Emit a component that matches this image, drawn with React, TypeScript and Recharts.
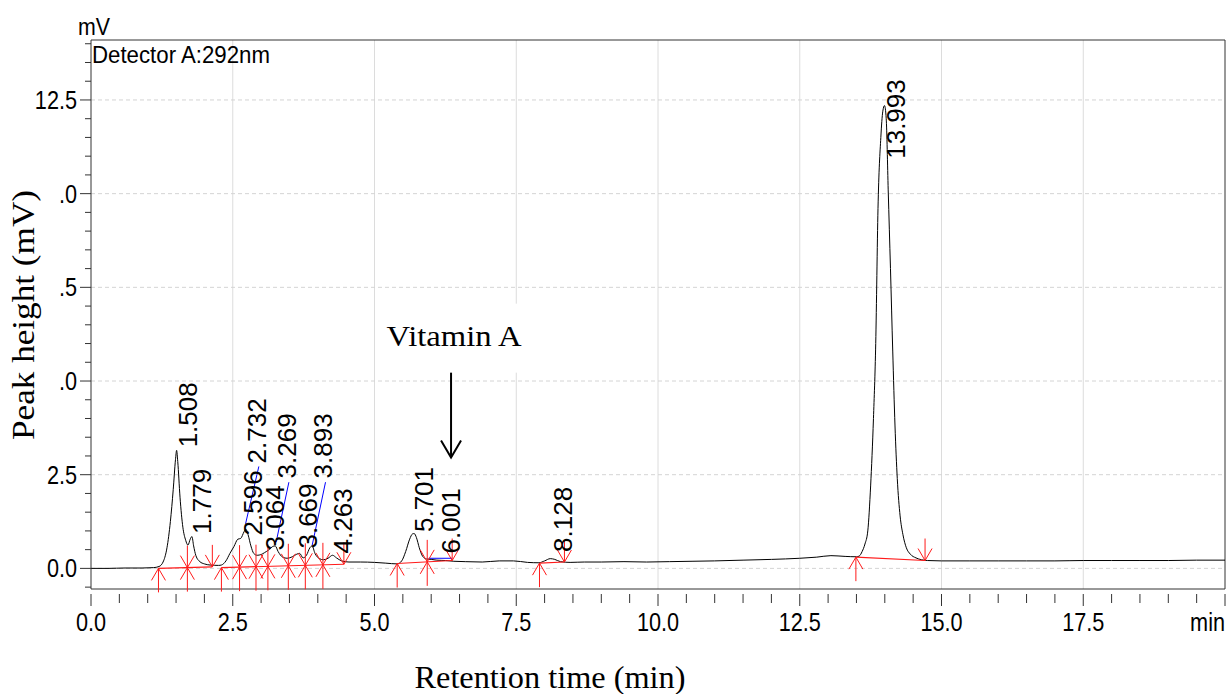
import React from 'react'
import { LineChart, Line, XAxis, YAxis, ReferenceLine, ReferenceDot } from 'recharts'

// detector trace, retention time (min) / signal (mV)
const times = [
  0, 0.3, 0.6, 0.9, 1.1, 1.2, 1.28, 1.34, 1.4, 1.45, 1.49, 1.51, 1.53, 1.57, 1.62, 1.67, 1.71, 1.75, 1.78, 1.81, 1.85, 1.92, 2.0, 2.1, 2.25,
  2.3, 2.38, 2.45, 2.52, 2.59, 2.64, 2.7, 2.73, 2.77, 2.82, 2.87, 2.93, 3.0, 3.06, 3.14, 3.2, 3.25, 3.3, 3.38, 3.46, 3.55, 3.63, 3.68, 3.74, 3.8, 3.86, 3.9, 3.95, 4.03, 4.1, 4.18, 4.26, 4.33, 4.42,
  4.55, 4.75, 5.0, 5.2, 5.4, 5.48, 5.55, 5.62, 5.67, 5.7, 5.74, 5.79, 5.85, 5.92, 6.0, 6.1, 6.25, 6.4, 6.6, 6.9, 7.2, 7.45, 7.7, 7.9, 8.0, 8.1, 8.18, 8.28, 8.45, 8.7, 9.0, 9.4, 9.8,
  10.2, 10.6, 11.0, 11.5, 12.0, 12.5, 12.8, 13.05, 13.3, 13.5, 13.55, 13.6, 13.65, 13.7, 13.75, 13.8, 13.84, 13.88, 13.93, 13.965, 13.995, 14.025, 14.06, 14.1, 14.14, 14.18, 14.22, 14.27, 14.32, 14.38, 14.45, 14.55, 14.65, 14.75, 15.0, 15.5, 16.0, 16.5, 17.0, 17.5, 18.0, 18.5, 19.0, 19.5, 20.0,
]
const signal = [
  0.0, 0.0, 0.01, 0.01, 0.02, 0.05, 0.2, 0.55, 1.25, 2.1, 2.9, 3.15, 2.85, 1.9, 1.1, 0.75, 0.62, 0.78, 0.85, 0.6, 0.34, 0.18, 0.12, 0.09, 0.08,
  0.09, 0.2, 0.4, 0.58, 0.78, 0.8, 0.98, 1.05, 0.9, 0.6, 0.4, 0.35, 0.37, 0.42, 0.5, 0.58, 0.6, 0.45, 0.3, 0.27, 0.31, 0.38, 0.4, 0.28, 0.35, 0.55, 0.6, 0.4, 0.26, 0.23, 0.27, 0.35, 0.28, 0.2,
  0.17, 0.17, 0.16, 0.14, 0.12, 0.2, 0.45, 0.78, 0.92, 0.93, 0.82, 0.55, 0.32, 0.25, 0.24, 0.22, 0.21, 0.19, 0.18, 0.17, 0.2, 0.2, 0.16, 0.15, 0.2, 0.26, 0.24, 0.18, 0.16, 0.17, 0.17, 0.18, 0.17,
  0.18, 0.19, 0.2, 0.22, 0.24, 0.27, 0.3, 0.34, 0.32, 0.31, 0.33, 0.45, 0.65, 1.0, 2.2, 4.0, 6.0, 9.6, 11.5, 12.2, 12.35, 12.0, 10.1, 8.0, 5.8, 3.8, 2.4, 1.4, 0.9, 0.55, 0.38, 0.28, 0.23, 0.21, 0.2, 0.2, 0.2, 0.2, 0.2, 0.21, 0.21, 0.21, 0.21, 0.22, 0.22,
]

// peak labels and where each label sits (min, mV)
const peakNames = ['1.508', '1.779', '2.596', '2.732', '3.064', '3.269', '3.669', '3.893', '4.263', '5.701', '6.001', '8.128', '13.993']
const labelTimes = [1.868, 2.115, 3.013, 3.078, 3.4, 3.61, 3.98, 4.25, 4.6, 6.04, 6.515, 8.475, 14.36]
const labelLevels = [3.23, 0.92, 0.88, 2.8, 0.48, 2.4, 0.53, 2.4, 0.4, 0.97, 0.4, 0.44, 10.93]

// integration marks
const markTimes = [1.19, 1.7, 2.14, 2.3, 2.62, 2.91, 3.12, 3.48, 3.78, 4.09, 4.46, 5.4, 5.93, 6.37, 7.91, 8.35, 13.49, 14.71]
const markLevels = [0.0, 0.02, 0.04, 0.02, 0.033, 0.045, 0.054, 0.069, 0.082, 0.095, 0.11, 0.13, 0.174, 0.21, 0.14, 0.17, 0.3, 0.21]
const markKinds = ['up', 'both', 'down', 'up', 'both', 'both', 'both', 'both', 'both', 'both', 'down', 'up', 'both', 'down', 'up', 'down', 'up', 'down']

// baselines drawn under peaks
const baseFrom = [[1.19, 0.0], [2.3, 0.02], [5.4, 0.13], [7.91, 0.14], [13.49, 0.3]]
const baseTo = [[2.14, 0.04], [4.46, 0.11], [6.37, 0.21], [8.35, 0.17], [14.71, 0.21]]

// blue leader lines
const leadFrom = [[2.726, 1.19], [3.265, 0.7], [3.9, 0.61], [5.956, 0.27]]
const leadTo = [[2.96, 2.72], [3.49, 2.3], [4.136, 2.3], [6.367, 0.27]]

// vitamin A arrow
const arrowTime = 6.35
const arrowTop = 5.73
const arrowTip = 2.96

const xTicks = Array.from({ length: 41 }, (_, i) => i * 0.5)
const yTicks = Array.from({ length: 30 }, (_, i) => -0.5 + i * 0.5)
const xTickLabels: Record<string, string> = { '0': '0.0', '2.5': '2.5', '5': '5.0', '7.5': '7.5', '10': '10.0', '12.5': '12.5', '15': '15.0', '17.5': '17.5', '20': 'min' }
const yTickLabels: Record<string, string> = { '0': '0.0', '2.5': '2.5', '5': '.0', '7.5': '.5', '10': '.0', '12.5': '12.5' }
const gridX = [2.5, 5, 7.5, 10, 12.5, 15, 17.5]
const gridY = [0, 2.5, 5, 7.5, 10, 12.5]

const W = 1230
const H = 694
const Y_MIN = -0.55
const Y_MAX = 14.1
const SANS = 'Liberation Sans, Arial, sans-serif'
const SERIF = 'Liberation Serif, Times New Roman, serif'
const AXIS = '#333'
const RED = '#ff1a1a'

const data = times.map((t, i) => ({ t, mv: signal[i] }))

const isMajor = (v: number) => Math.abs(v / 2.5 - Math.round(v / 2.5)) < 1e-6

function XTick(props: any) {
  const { x, y, payload } = props
  const v = payload.value
  const major = isMajor(v)
  const label = xTickLabels[String(v)]
  return (
    <g>
      <line x1={x} x2={x} y1={y + 5} y2={y + (major ? 17 : 14)} stroke={AXIS} />
      {label && (
        <text transform={`translate(${x},${y + 42}) scale(0.85,1)`} textAnchor={v === 20 ? 'end' : 'middle'}
          fontFamily={SANS} fontSize={25.5} fill="#000">{label}</text>
      )}
    </g>
  )
}

function YTick(props: any) {
  const { x, y, payload } = props
  const v = payload.value
  const major = isMajor(v)
  const label = yTickLabels[String(v)]
  return (
    <g>
      <line x1={x - (major ? 11 : 6)} x2={x} y1={y} y2={y} stroke={AXIS} />
      {label && (
        <text transform={`translate(${x - 14},${y + 9}) scale(0.85,1)`} textAnchor="end"
          fontFamily={SANS} fontSize={25.5} fill="#000">{label}</text>
      )}
    </g>
  )
}

function Mark({ cx, cy, kind }: { cx: number; cy: number; kind: string }) {
  const fromBelow = kind !== 'down'
  const fromAbove = kind !== 'up'
  return (
    <g stroke={RED} strokeWidth={1} fill="none">
      <line x1={cx} x2={cx} y1={fromAbove ? cy - 22 : cy} y2={fromBelow ? cy + 24 : cy} />
      {fromBelow && <polyline points={`${cx - 7},${cy + 12} ${cx},${cy} ${cx + 7},${cy + 12}`} />}
      {fromAbove && <polyline points={`${cx - 7},${cy - 12} ${cx},${cy} ${cx + 7},${cy - 12}`} />}
    </g>
  )
}

export default function App() {
  return (
    <div style={{ position: 'absolute', left: 0, top: 0, width: W, height: H, background: '#fff' }}>
      <LineChart width={W} height={H} data={data} margin={{ top: 40, right: 5, bottom: 0, left: 0 }}>
        <XAxis dataKey="t" type="number" domain={[0, 20]} ticks={xTicks} interval={0} height={105}
          tickSize={0} tickMargin={0} tickLine={false} axisLine={{ stroke: AXIS }} tick={(p: any) => <XTick {...p} />} />
        <YAxis type="number" domain={[Y_MIN, Y_MAX]} ticks={yTicks} interval={0} width={91}
          tickSize={0} tickMargin={0} tickLine={false} axisLine={{ stroke: AXIS }} tick={(p: any) => <YTick {...p} />} />

        {gridX.map((g) => (
          <ReferenceLine key={'gx' + g} x={g} stroke="#dcdcdc" strokeWidth={1} />
        ))}
        {gridY.map((g) => (
          <ReferenceLine key={'gy' + g} y={g} stroke="#d4d4d4" strokeWidth={1} strokeDasharray="4 3" />
        ))}
        <ReferenceLine y={Y_MAX} stroke={AXIS} ifOverflow="visible" />
        <ReferenceLine x={20} stroke={AXIS} ifOverflow="visible" />

        <Line type="monotone" dataKey="mv" stroke="#000" strokeWidth={1} dot={false} isAnimationActive={false} />

        {baseFrom.map((a, i) => (
          <ReferenceLine key={'b' + i} segment={[{ x: a[0], y: a[1] }, { x: baseTo[i][0], y: baseTo[i][1] }]}
            stroke={RED} strokeWidth={1.2} />
        ))}
        {leadFrom.map((a, i) => (
          <ReferenceLine key={'l' + i} segment={[{ x: a[0], y: a[1] }, { x: leadTo[i][0], y: leadTo[i][1] }]}
            stroke="#0000ff" strokeWidth={1} />
        ))}
        {markTimes.map((t, i) => (
          <ReferenceDot key={'m' + i} x={t} y={markLevels[i]} r={0}
            shape={(p: any) => <Mark cx={p.cx} cy={p.cy} kind={markKinds[i]} />} />
        ))}
        {peakNames.map((name, i) => (
          <ReferenceDot key={'p' + i} x={labelTimes[i]} y={labelLevels[i]} r={0}
            shape={(p: any) => (
              <text transform={`translate(${p.cx},${p.cy}) rotate(-90)`} fontFamily={SANS} fontSize={26} fill="#000">{name}</text>
            )} />
        ))}

        <ReferenceLine segment={[{ x: arrowTime, y: arrowTop }, { x: arrowTime, y: arrowTip }]} stroke="#000" strokeWidth={2} />
        <ReferenceDot x={arrowTime} y={arrowTip} r={0}
          shape={(p: any) => (
            <polyline points={`${p.cx - 10},${p.cy - 17} ${p.cx},${p.cy} ${p.cx + 10},${p.cy - 17}`} stroke="#000" strokeWidth={2} fill="none" />
          )} />
        <ReferenceDot x={arrowTime} y={arrowTop} r={0}
          shape={(p: any) => (
            <g>
              <rect x={p.cx - 70} y={p.cy - 50} width={147} height={69} fill="#fff" />
              <text x={p.cx + 3} y={p.cy - 8} textAnchor="middle" fontFamily={SERIF} fontSize={30}
                textLength={135} lengthAdjust="spacingAndGlyphs" fill="#000">Vitamin A</text>
            </g>
          )} />
      </LineChart>

      <svg width={W} height={H} style={{ position: 'absolute', left: 0, top: 0, pointerEvents: 'none' }}>
        <text x={78} y={35} fontFamily={SANS} fontSize={24} textLength={32} lengthAdjust="spacingAndGlyphs" fill="#000">mV</text>
        <text x={92} y={63} fontFamily={SANS} fontSize={23} textLength={178} lengthAdjust="spacingAndGlyphs" fill="#000">Detector A:292nm</text>
        <text x={550} y={688} textAnchor="middle" fontFamily={SERIF} fontSize={32} textLength={271} lengthAdjust="spacingAndGlyphs" fill="#000">Retention time (min)</text>
        <text transform="translate(34,315) rotate(-90)" textAnchor="middle" fontFamily={SERIF} fontSize={32}
          textLength={250} lengthAdjust="spacingAndGlyphs" fill="#000">Peak height (mV)</text>
      </svg>
    </div>
  )
}
